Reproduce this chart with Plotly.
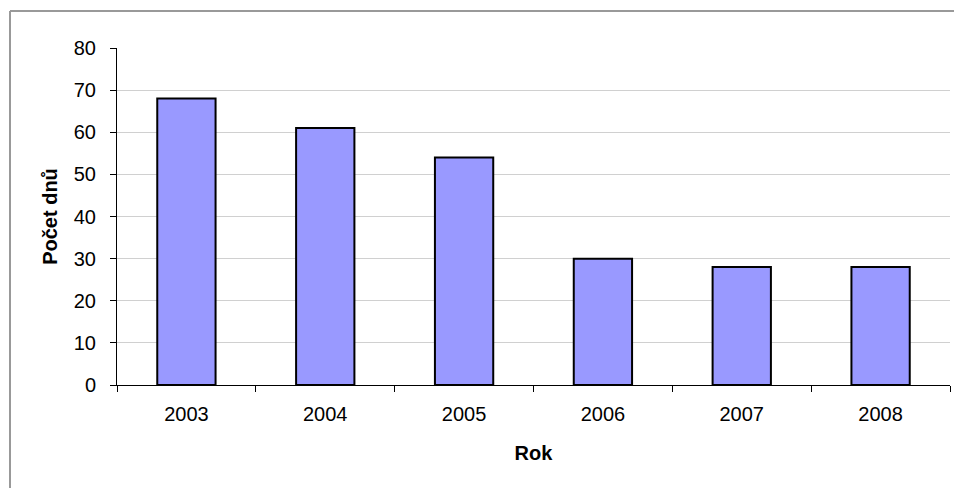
import plotly.graph_objects as go

# Počet dnů podle roku
roky = ["2003", "2004", "2005", "2006", "2007", "2008"]
pocet_dnu = [68, 61, 54, 30, 28, 28]

W, H = 954, 488
L, R, T, B = 117, 4, 48, 103
pw = W - L - R
ph = H - T - B

fig = go.Figure(
    go.Bar(
        x=roky,
        y=pocet_dnu,
        marker=dict(color="#9999FF", line=dict(color="#000000", width=2)),
        width=0.42,
    )
)

font = "Liberation Sans, Arial, sans-serif"
fs = 20

fig.update_layout(
    width=W,
    height=H,
    margin=dict(l=L, r=R, t=T, b=B),
    paper_bgcolor="white",
    plot_bgcolor="white",
    showlegend=False,
    font=dict(family=font, size=fs, color="black"),
    xaxis=dict(
        type="category",
        showgrid=False,
        showline=True,
        linecolor="black",
        linewidth=1,
        ticks="outside",
        tickson="boundaries",
        ticklen=6,
        tickcolor="black",
        tickfont=dict(size=fs),
        ticklabelstandoff=11,
        title=dict(text="<b>Rok</b>", font=dict(size=fs), standoff=21),
    ),
    yaxis=dict(
        range=[0, 80],
        dtick=10,
        showgrid=True,
        gridcolor="#d0d0d0",
        gridwidth=1,
        showline=True,
        linecolor="black",
        linewidth=1,
        ticks="outside",
        ticklen=6,
        tickcolor="black",
        tickfont=dict(size=fs),
        ticklabelstandoff=10,
        zeroline=False,
        title=dict(text="<b>Počet dnů</b>", font=dict(size=fs), standoff=10),
    ),
)

# Rámeček grafu: horní a levá hrana
x_left = (10 - L) / pw
x_right = (W + 20 - L) / pw
y_top = (H - B - 11) / ph
y_bottom = -(B + 20) / ph
for x0, y0, x1, y1 in [(x_left, y_top, x_right, y_top), (x_left, y_bottom, x_left, y_top)]:
    fig.add_shape(
        type="line",
        xref="paper",
        yref="paper",
        x0=x0,
        y0=y0,
        x1=x1,
        y1=y1,
        line=dict(color="#999999", width=2),
        layer="below",
    )

fig.write_html("out.html")
